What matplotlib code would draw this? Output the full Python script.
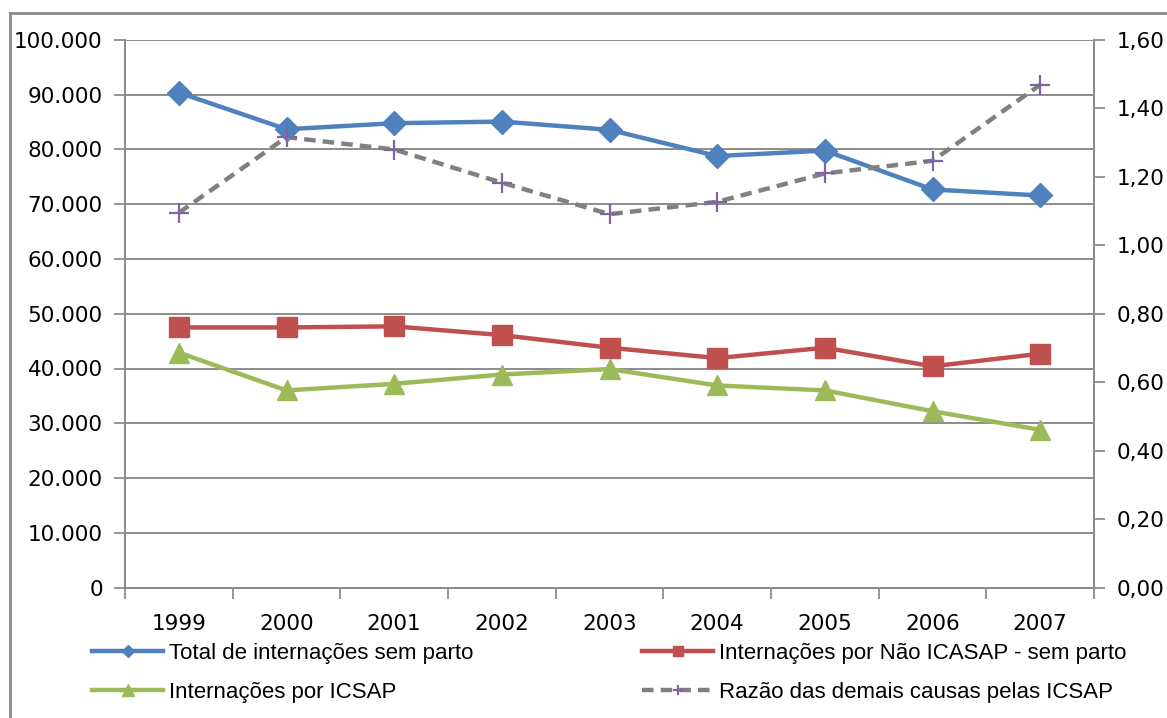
import matplotlib
matplotlib.use("Agg")
import matplotlib.pyplot as plt
from matplotlib.ticker import FuncFormatter, FixedLocator
from matplotlib.lines import Line2D

years = ["1999", "2000", "2001", "2002", "2003", "2004", "2005", "2006", "2007"]
total_sem_parto = [90400, 83700, 84800, 85100, 83600, 78800, 79800, 72700, 71600]
nao_icsap = [47500, 47500, 47700, 46100, 43800, 41900, 43800, 40400, 42700]
icsap = [42900, 36000, 37200, 38900, 39900, 36900, 36000, 32200, 28800]
razao = [1.095, 1.316, 1.280, 1.183, 1.091, 1.127, 1.210, 1.247, 1.469]

labels = {
    "total": "Total de internações sem parto",
    "nao": "Internações por Não ICASAP - sem parto",
    "icsap": "Internações por ICSAP",
    "razao": "Razão das demais causas pelas ICSAP",
}

BLUE = "#4F81BD"
RED = "#C0504D"
GREEN = "#9BBB59"
PURPLE = "#8064A2"
GRAY = "#808080"
AXGRAY = "#8C8C8C"

fig = plt.figure(figsize=(11.67, 7.18), dpi=100)
ax = fig.add_axes([125/1167, 1-587.5/718, (1094-125)/1167, (587.5-40)/718])
ax2 = ax.twinx()

x = list(range(len(years)))

l1, = ax.plot(x, total_sem_parto, color=BLUE, lw=3.2, marker="D", ms=12, zorder=3)
l2, = ax.plot(x, nao_icsap, color=RED, lw=3.2, marker="s", ms=14, zorder=3)
l3, = ax.plot(x, icsap, color=GREEN, lw=3.2, marker="^", ms=15, zorder=3)
l4, = ax2.plot(x, razao, color=GRAY, lw=3.2, ls=(0, (2.6, 1.6)), marker="+", ms=14,
               mec=PURPLE, mew=1.6, zorder=3)

ax.set_xlim(-0.5, len(years) - 0.5)
ax.set_ylim(0, 100000)
ax2.set_ylim(0, 1.6)

ax.set_xticks(x)
ax.set_xticklabels(years)
ax.xaxis.set_minor_locator(FixedLocator([i - 0.5 for i in range(len(years) + 1)]))
ax.tick_params(axis="x", which="major", length=0, pad=19, labelsize=15.5, colors="#000000")
ax.tick_params(axis="x", which="minor", length=8, width=1.3, color=AXGRAY, direction="out")

ax.set_yticks(range(0, 100001, 10000))
ax.yaxis.set_major_formatter(FuncFormatter(lambda v, p: f"{int(v):,}".replace(",", ".")))
ax.tick_params(axis="y", length=8, width=1.3, color=AXGRAY, labelsize=15.5, pad=8)

ax2.set_yticks([i * 0.2 for i in range(9)])
ax2.yaxis.set_major_formatter(FuncFormatter(lambda v, p: f"{v:.2f}".replace(".", ",")))
ax2.tick_params(axis="y", length=8, width=1.3, color=AXGRAY, labelsize=15.5, pad=8)

ax.grid(axis="y", color=AXGRAY, lw=1.4)
ax.set_axisbelow(True)
for a in (ax, ax2):
    for s in ("left", "right", "bottom"):
        a.spines[s].set_color(AXGRAY)
        a.spines[s].set_linewidth(1.4)
    a.spines["top"].set_visible(False)
ax2.set_zorder(ax.get_zorder() + 1)
ax2.patch.set_visible(False)

legprops = {"family": ["Liberation Sans", "DejaVu Sans"], "size": 16}
legkw = dict(loc="center left", frameon=False, handlelength=3.2, handletextpad=0.28,
             labelspacing=0.8, markerscale=0.55, borderpad=0, borderaxespad=0, prop=legprops)
leg1 = fig.legend([l1, l3], [labels["total"], labels["icsap"]],
                  bbox_to_anchor=(92/1167, 1-673/718), **legkw)
leg2 = fig.legend([l2, l4], [labels["nao"], labels["razao"]],
                  bbox_to_anchor=(642/1167, 1-673/718), **legkw)

# figure border (left and top)
fig.add_artist(Line2D([10/1167, 10/1167], [0, 1-13/718], color=AXGRAY, lw=2, transform=fig.transFigure))
fig.add_artist(Line2D([10/1167, 1], [1-13/718, 1-13/718], color=AXGRAY, lw=2, transform=fig.transFigure))

fig.savefig("out.png", dpi=100)
